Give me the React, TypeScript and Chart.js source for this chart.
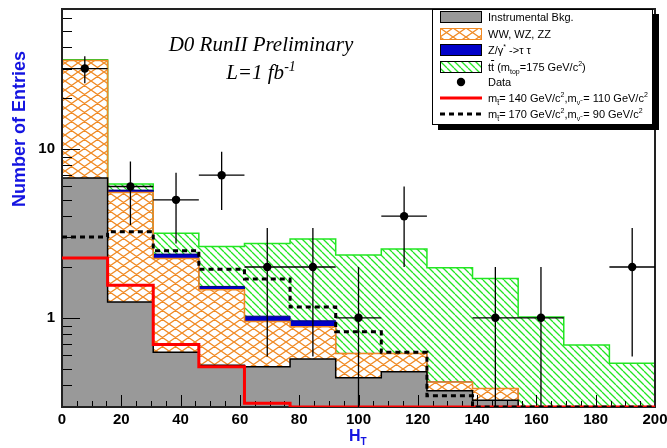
import React, { useEffect, useRef } from 'react';
import { Chart, registerables } from 'chart.js';

Chart.register(...registerables);

// ---- data ----
const binEdges = [0, 15.38, 30.77, 46.15, 61.54, 76.92, 92.31, 107.69, 123.08, 138.46, 153.85, 169.23, 184.62, 200];
const instrumental = [6.73, 1.24, 0.624, 0.524, 0.512, 0.569, 0.441, 0.479, 0.369, 0.325, 0, 0, 0];
const dibosons = [26.7, 4.28, 1.62, 0.94, 0.44, 0.315, 0.174, 0.136, 0.048, 0.056, 0, 0, 0];
const ztautau = [0.1, 0.19, 0.14, 0.07, 0.07, 0.076, 0, 0, 0, 0, 0, 0, 0];
const ttbar = [0.3, 0.49, 0.79, 1.11, 1.73, 1.97, 1.74, 1.94, 1.56, 1.33, 1.01, 0.69, 0.537];
const signal140 = [2.26, 1.56, 0.695, 0.512, 0.312, 0, 0, 0, 0, 0, 0, 0, 0];
const signal170 = [3.01, 3.23, 2.5, 1.94, 1.7, 1.16, 0.826, 0.624, 0.345, 0, 0, 0, 0];
const dataCounts = [30, 6, 5, 7, 2, 2, 1, 4, 0, 1, 1, 0, 2];
const dataErrors = [5.48, 2.45, 2.24, 2.65, 1.41, 1.41, 1, 2, 0, 1, 1, 0, 1.41];
const xTickLabels = [0, 20, 40, 60, 80, 100, 120, 140, 160, 180, 200];
const yTickLabels = [1, 10];

const Y_MIN = 0.296;
const Y_MAX = 67.6;
const FLOOR = 0.01;

const BLUE_TEXT = 'rgb(20,20,225)';
const ORANGE = '#f08a24';
const GREEN = '#22e622';
const GRAY = '#999999';
const DARKBLUE = '#0000c8';

const cumulative = (...arrs: number[][]) => arrs[0].map((_, i) => arrs.reduce((s, a) => s + a[i], 0));

const stepPoints = (vals: number[], floor: number) => {
  const pts = vals.map((v, i) => ({ x: binEdges[i], y: v > 0 ? v : floor }));
  const last = vals[vals.length - 1];
  pts.push({ x: binEdges[vals.length], y: last > 0 ? last : floor });
  return pts;
};

const centers = binEdges.slice(0, -1).map((e, i) => (e + binEdges[i + 1]) / 2);

const makeCrossHatch = () => {
  const c = document.createElement('canvas');
  c.width = 13; c.height = 9;
  const g = c.getContext('2d')!;
  g.strokeStyle = ORANGE;
  g.lineWidth = 1.3;
  g.beginPath();
  for (const dx of [-13, 0, 13]) {
    g.moveTo(dx, 0); g.lineTo(dx + 13, 9);
    g.moveTo(dx, 9); g.lineTo(dx + 13, 0);
  }
  g.stroke();
  return g.createPattern(c, 'repeat')!;
};

const makeDiagHatch = () => {
  const c = document.createElement('canvas');
  c.width = 7; c.height = 7;
  const g = c.getContext('2d')!;
  g.strokeStyle = GREEN;
  g.lineWidth = 1.3;
  g.beginPath();
  for (const dx of [-7, 0, 7]) {
    g.moveTo(dx, 0); g.lineTo(dx + 7, 7);
  }
  g.stroke();
  return g.createPattern(c, 'repeat')!;
};

// dataset index after which the frame and inner ticks are drawn (the last filled layer)
const FRAME_AFTER_INDEX = 0;

const framePlugin = {
  id: 'rootFrame',
  afterDatasetDraw(chart: any, args: any) {
    if (args.index !== FRAME_AFTER_INDEX) return;
    const { ctx, chartArea: a, scales } = chart;
    const x = scales.x;
    const y = scales.y;
    ctx.save();
    ctx.strokeStyle = '#000';
    ctx.lineWidth = 1;
    ctx.beginPath();
    for (let v = 0; v <= 200; v += 5) {
      const px = Math.round(x.getPixelForValue(v)) + 0.5;
      const len = v % 20 === 0 ? 12 : 6;
      ctx.moveTo(px, a.bottom);
      ctx.lineTo(px, a.bottom - len);
    }
    for (let d = -1; d <= 1; d++) {
      for (let m = 1; m <= 9; m++) {
        const v = m * Math.pow(10, d);
        if (v < Y_MIN || v > Y_MAX) continue;
        const py = Math.round(y.getPixelForValue(v)) + 0.5;
        const len = m === 1 ? 18 : 10;
        ctx.moveTo(a.left, py);
        ctx.lineTo(a.left + len, py);
      }
    }
    ctx.stroke();
    ctx.lineWidth = 2;
    ctx.strokeStyle = '#222';
    ctx.strokeRect(a.left, a.top, a.right - a.left, a.bottom - a.top);
    ctx.restore();
  },
};

function LegendSymbol({ kind }: { kind: string }) {
  if (kind === 'gray') {
    return (<svg width={42} height={12}><rect x={0.5} y={0.5} width={41} height={11} fill={GRAY} stroke="#000" /></svg>);
  }
  if (kind === 'orange') {
    return (
      <svg width={42} height={12}>
        <defs>
          <pattern id="lgxh" width={13} height={9} patternUnits="userSpaceOnUse">
            <path d="M0,0 L13,9 M0,9 L13,0" stroke={ORANGE} strokeWidth={1.3} />
          </pattern>
        </defs>
        <rect x={0.5} y={0.5} width={41} height={11} fill="#fff" />
        <rect x={0.5} y={0.5} width={41} height={11} fill="url(#lgxh)" stroke={ORANGE} />
      </svg>
    );
  }
  if (kind === 'blue') {
    return (<svg width={42} height={12}><rect x={0.5} y={0.5} width={41} height={11} fill={DARKBLUE} stroke="#000" /></svg>);
  }
  if (kind === 'green') {
    return (
      <svg width={42} height={12}>
        <defs>
          <pattern id="lgdh" width={7} height={7} patternUnits="userSpaceOnUse">
            <path d="M-7,0 L0,7 M0,0 L7,7 M7,0 L14,7" stroke={GREEN} strokeWidth={1.3} />
          </pattern>
        </defs>
        <rect x={0.5} y={0.5} width={41} height={11} fill="url(#lgdh)" stroke="#000" />
      </svg>
    );
  }
  if (kind === 'data') {
    return (<svg width={42} height={12}><circle cx={21} cy={6} r={4.2} fill="#000" /></svg>);
  }
  if (kind === 'red') {
    return (<svg width={42} height={12}><line x1={0} y1={6} x2={42} y2={6} stroke="#ff0000" strokeWidth={3} /></svg>);
  }
  return (<svg width={42} height={12}><line x1={0} y1={6} x2={42} y2={6} stroke="#000" strokeWidth={3} strokeDasharray="5 4" /></svg>);
}

const subStyle: React.CSSProperties = { fontSize: 7, verticalAlign: -3, lineHeight: 0 };
const supStyle: React.CSSProperties = { fontSize: 7, verticalAlign: 5, lineHeight: 0 };

const zeroPad = (ax: any) => {
  ax.paddingLeft = 0;
  ax.paddingRight = 0;
  ax.paddingTop = 0;
  ax.paddingBottom = 0;
};

export default function App() {
  const canvasRef = useRef<HTMLCanvasElement | null>(null);

  useEffect(() => {
    const canvas = canvasRef.current;
    if (!canvas) return;
    const cumGray = instrumental;
    const cumOrange = cumulative(instrumental, dibosons);
    const cumBlue = cumulative(instrumental, dibosons, ztautau);
    const cumGreen = cumulative(instrumental, dibosons, ztautau, ttbar);

    const errPoints: any[] = [];
    dataCounts.forEach((n, i) => {
      if (n <= 0) return;
      const lo = n - dataErrors[i];
      errPoints.push({ x: binEdges[i], y: n }, { x: binEdges[i + 1], y: n }, { x: centers[i], y: null });
      errPoints.push({ x: centers[i], y: lo > 0 ? lo : FLOOR }, { x: centers[i], y: n + dataErrors[i] }, { x: centers[i], y: null });
    });
    const pointData = dataCounts.map((n, i) => ({ x: centers[i], y: n > 0 ? n : null }));

    const common = { stepped: true, pointRadius: 0, tension: 0 };
    const chart = new Chart(canvas, {
      type: 'line',
      data: {
        datasets: [
          { ...common, label: 'Instrumental Bkg.', data: stepPoints(cumGray, FLOOR), borderColor: '#000', borderWidth: 1.5, backgroundColor: GRAY, fill: 'start', order: 1 },
          { ...common, label: 'WW, WZ, ZZ', data: stepPoints(cumOrange, FLOOR), borderColor: ORANGE, borderWidth: 1.5, backgroundColor: makeCrossHatch(), fill: '-1', order: 2 },
          { ...common, label: 'Z/gamma', data: stepPoints(cumBlue, FLOOR), borderColor: '#00007a', borderWidth: 1, backgroundColor: DARKBLUE, fill: '-1', order: 3 },
          { ...common, label: 'ttbar', data: stepPoints(cumGreen, FLOOR), borderColor: GREEN, borderWidth: 1.5, backgroundColor: makeDiagHatch(), fill: '-1', order: 4 },
          { ...common, label: 'stop 170', data: stepPoints(signal170, Y_MIN), borderColor: '#000', borderWidth: 3, borderDash: [5, 4], fill: false, order: -1 },
          { ...common, label: 'stop 140', data: stepPoints(signal140, Y_MIN), borderColor: '#ff0000', borderWidth: 3, fill: false, order: 0 },
          { label: 'errors', data: errPoints, borderColor: '#000', borderWidth: 1.3, pointRadius: 0, fill: false, spanGaps: false, stepped: false, order: -2 },
          { label: 'Data', data: pointData, showLine: false, pointRadius: 4.2, pointBackgroundColor: '#000', pointBorderWidth: 0, borderColor: '#000', fill: false, order: -3 },
        ] as any,
      },
      options: {
        animation: false,
        responsive: false,
        events: [],
        layout: { padding: { top: 9, right: 12, left: 0, bottom: 0 } },
        plugins: {
          legend: { display: false },
          tooltip: { enabled: false },
        },
        scales: {
          x: {
            type: 'linear',
            min: 0,
            max: 200,
            grid: { display: false, drawTicks: false },
            border: { display: false },
            ticks: {
              color: '#000',
              padding: 4,
              maxRotation: 0,
              font: { family: '"Liberation Sans", Arial, sans-serif', size: 15, weight: 'bold' },
              callback: (v: any) => String(v),
            },
            afterBuildTicks: (ax: any) => { ax.ticks = xTickLabels.map((v) => ({ value: v })); },
            afterFit: (ax: any) => { ax.height = 41; zeroPad(ax); },
          },
          y: {
            type: 'logarithmic',
            min: Y_MIN,
            max: Y_MAX,
            grid: { display: false, drawTicks: false },
            border: { display: false },
            ticks: {
              color: '#000',
              padding: 7,
              font: { family: '"Liberation Sans", Arial, sans-serif', size: 15, weight: 'bold' },
              callback: (v: any) => String(v),
            },
            afterBuildTicks: (ax: any) => { ax.ticks = yTickLabels.map((v) => ({ value: v })); },
            afterFit: (ax: any) => { ax.width = 62; zeroPad(ax); },
          },
        },
      } as any,
      plugins: [framePlugin],
    });
    return () => chart.destroy();
  }, []);

  const rowCenters = [7, 23.5, 40, 56.5, 72, 88, 103.5];
  const rows: { kind: string; text: React.ReactNode }[] = [
    { kind: 'gray', text: 'Instrumental Bkg.' },
    { kind: 'orange', text: 'WW, WZ, ZZ' },
    { kind: 'blue', text: (<>Z/{'\u03B3'}<span style={supStyle}>*</span> -&gt;{'\u03C4'} {'\u03C4'}</>) },
    { kind: 'green', text: (<>t<span style={{ textDecoration: 'overline' }}>t</span> (m<span style={subStyle}>top</span>=175 GeV/c<span style={supStyle}>2</span>)</>) },
    { kind: 'data', text: 'Data' },
    { kind: 'red', text: (<>m<span style={subStyle}>{'t\u0303'}</span>= 140 GeV/c<span style={supStyle}>2</span>,m<span style={subStyle}>{'\u03BD\u0303'}</span> = 110 GeV/c<span style={supStyle}>2</span></>) },
    { kind: 'dash', text: (<>m<span style={subStyle}>{'t\u0303'}</span>= 170 GeV/c<span style={supStyle}>2</span>,m<span style={subStyle}>{'\u03BD\u0303'}</span> = 90 GeV/c<span style={supStyle}>2</span></>) },
  ];

  return (
    <div style={{ position: 'absolute', left: 0, top: 0, width: 667, height: 448, background: '#fff', overflow: 'hidden' }}>
      <canvas ref={canvasRef} width={667} height={448} style={{ position: 'absolute', left: 0, top: 0 }} />
      <div style={{ position: 'absolute', left: 111, top: 34, width: 300, textAlign: 'center', fontFamily: '"Liberation Serif", "Times New Roman", serif', fontStyle: 'italic', fontSize: 21, lineHeight: '21px', color: '#000' }}>
        D0 RunII Preliminary
      </div>
      <div style={{ position: 'absolute', left: 111, top: 62, width: 300, textAlign: 'center', fontFamily: '"Liberation Serif", "Times New Roman", serif', fontStyle: 'italic', fontSize: 21, lineHeight: '21px', color: '#000' }}>
        L=1 fb<span style={{ fontSize: 14, verticalAlign: 8, lineHeight: 0 }}>-1</span>
      </div>
      <div style={{ position: 'absolute', left: -81.5, top: 119, width: 200, height: 20, lineHeight: '20px', textAlign: 'center', transform: 'rotate(-90deg)', transformOrigin: 'center', fontFamily: '"Liberation Sans", Arial, sans-serif', fontWeight: 'bold', fontSize: 18, color: BLUE_TEXT, whiteSpace: 'nowrap' }}>
        Number of Entries
      </div>
      <div style={{ position: 'absolute', left: 349, top: 428, lineHeight: '16px', fontFamily: '"Liberation Sans", Arial, sans-serif', fontWeight: 'bold', fontSize: 16, color: BLUE_TEXT, whiteSpace: 'nowrap' }}>
        H<span style={{ fontSize: 10, verticalAlign: -4, lineHeight: 0 }}>T</span>
      </div>
      <div style={{ position: 'absolute', left: 432, top: 9, width: 221, height: 116, boxSizing: 'border-box', border: '1px solid #000', background: '#fff', boxShadow: '6px 5px 0 #000', fontFamily: '"Liberation Sans", Arial, sans-serif', fontSize: 11, color: '#000' }}>
        {rows.map((r, i) => (
          <div key={i} style={{ position: 'absolute', left: 7, top: rowCenters[i] - 7, height: 14, display: 'flex', alignItems: 'center', whiteSpace: 'nowrap' }}>
            <LegendSymbol kind={r.kind} />
            <span style={{ marginLeft: 6, lineHeight: '14px' }}>{r.text}</span>
          </div>
        ))}
      </div>
    </div>
  );
}
